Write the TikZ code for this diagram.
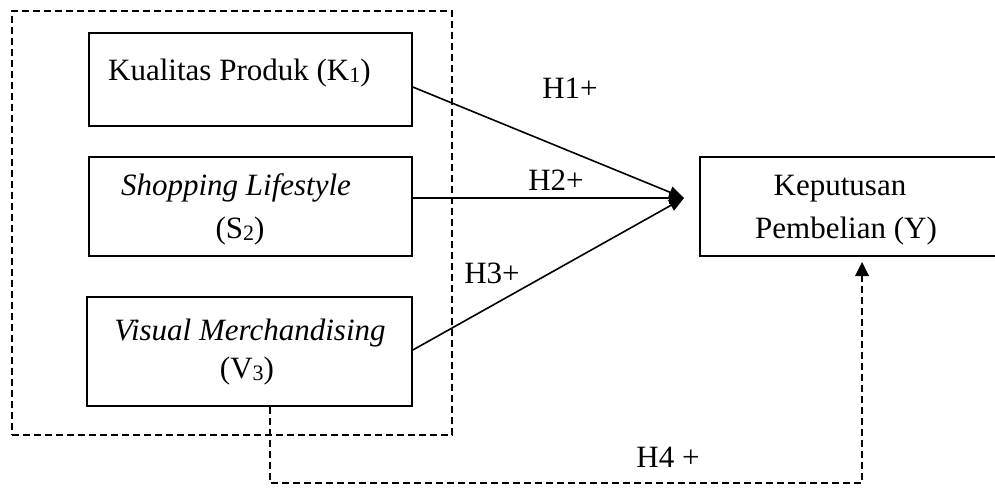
\documentclass[tikz,border=0pt]{standalone}
\usepackage{fontspec}
\setmainfont{Liberation Serif}
\usetikzlibrary{arrows.meta}
\newcommand{\subd}[1]{\raisebox{-2pt}{\fontsize{22}{22}\selectfont #1}}
\begin{document}
\begin{tikzpicture}[x=1pt,y=-1pt,
  box/.style={draw,line width=1.6pt,inner sep=0pt},
  txt/.style={inner sep=0pt,anchor=base,font=\fontsize{31}{36}\selectfont},
  conn/.style={line width=1.6pt,-{Triangle[length=15pt,width=12pt]}},
  dsh/.style={line width=1.4pt,dash pattern=on 7pt off 4pt}]
\useasboundingbox (0,0) rectangle (995,491);
\clip (0,0) rectangle (995,491);
\fill[white] (0,0) rectangle (995,491);
% dashed group
\node[dsh,draw,minimum width=440pt,minimum height=424pt,inner sep=0pt] (grp) at (232,223) {};
% boxes
\node[box,minimum width=323pt,minimum height=93pt] (b1) at (250.5,79.5) {};
\node[box,minimum width=323pt,minimum height=99pt] (b2) at (250.5,206.5) {};
\node[box,minimum width=325pt,minimum height=109pt] (b3) at (249.5,351.5) {};
\node[box,minimum width=320pt,minimum height=99pt] (yb) at (860,206.5) {};
% texts
\node[txt,anchor=base west] (t1) at (108,80) {Kualitas Produk (K\subd{1})};
\node[txt] (t2a) at (236,195) {\itshape Shopping Lifestyle};
\node[txt] (t2b) at (240,238) {(S\subd{2})};
\node[txt] (t3a) at (250,340) {\itshape Visual Merchandising};
\node[txt] (t3b) at (247,378) {(V\subd{3})};
\node[txt] (tya) at (840,195) {Keputusan};
\node[txt] (tyb) at (846,238) {Pembelian (Y)};
% connectors
\coordinate (tip) at (684,198);
\draw[conn] ([yshift=-7.5pt]b1.east) -- (tip);
\draw[conn] ([yshift=8.5pt]b2.east) -- (tip);
\draw[conn] ([yshift=1.5pt]b3.east) -- (tip);
\coordinate (h4a) at (270,483);
\coordinate (h4b) at (862,483);
\coordinate (h4end) at (862,262);
\draw[dsh] ([xshift=20.5pt]b3.south) -- (h4a) -- (h4b) -- (h4end);
\fill (h4end) -- (855,276) -- (869,276) -- cycle;
% labels
\node[txt] (l1) at (570,98) {H1+};
\node[txt] (l2) at (556,190) {H2+};
\node[txt] (l3) at (492,283) {H3+};
\node[txt] (l4) at (668,467) {H4 +};
\end{tikzpicture}
\end{document}
